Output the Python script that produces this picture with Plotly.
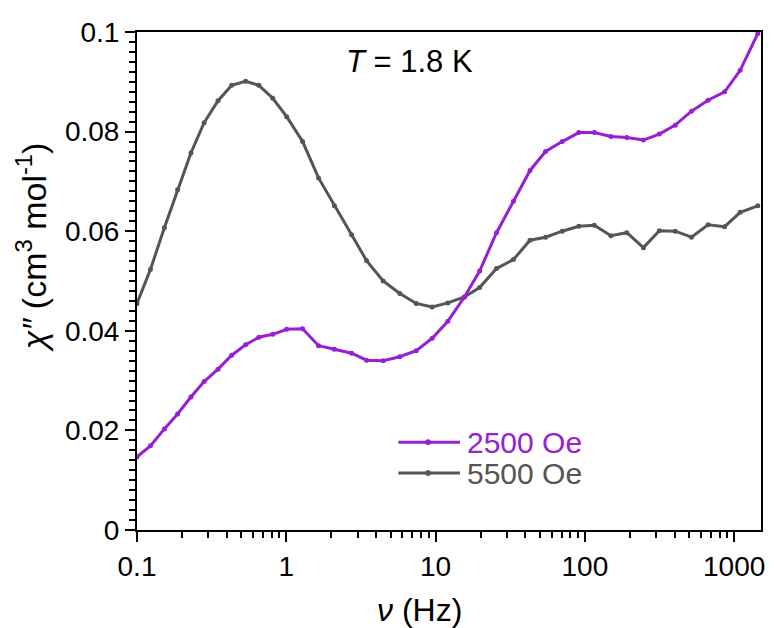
import plotly.graph_objects as go

freq_hz = [0.1, 0.123, 0.1525, 0.187, 0.2297, 0.2816, 0.349, 0.4309, 0.534, 0.655,
           0.812, 1.006, 1.286, 1.644, 2.101, 2.740, 3.448, 4.456, 5.757, 7.426,
           9.49, 12.08, 15.61, 19.73, 25.61, 33.23, 42.95, 54.55, 70.5, 91.1,
           115.7, 149.5, 191.1, 246.9, 315.5, 403.3, 517.9, 669.1, 863.4, 1098, 1441]

chi2_2500 = [0.0147, 0.0169, 0.0203, 0.0233, 0.0267, 0.0298, 0.0323, 0.0351, 0.0372, 0.0387,
             0.0393, 0.0403, 0.0404, 0.0370, 0.0363, 0.0355, 0.0341, 0.0340, 0.0348, 0.0360,
             0.0385, 0.0419, 0.0468, 0.0520, 0.0597, 0.0660, 0.0722, 0.0760, 0.0780, 0.0798,
             0.0798, 0.0790, 0.0788, 0.0783, 0.0795, 0.0813, 0.0841, 0.0863, 0.0880, 0.0923, 0.0997]

chi2_5500 = [0.0455, 0.0523, 0.0607, 0.0683, 0.0757, 0.0818, 0.0862, 0.0893, 0.0901, 0.0893,
             0.0867, 0.0830, 0.0780, 0.0707, 0.0651, 0.0593, 0.0541, 0.0500, 0.0475, 0.0455,
             0.0448, 0.0456, 0.0468, 0.0487, 0.0525, 0.0543, 0.0582, 0.0588, 0.0600, 0.0610,
             0.0612, 0.0591, 0.0597, 0.0567, 0.0601, 0.0600, 0.0588, 0.0613, 0.0609, 0.0638, 0.0651]

series_names = ["2500 Oe", "5500 Oe"]
x_tick_vals = [0.1, 1, 10, 100, 1000]
x_tick_text = ["0.1", "1", "10", "100", "1000"]
y_tick_vals = [0, 0.02, 0.04, 0.06, 0.08, 0.1]
y_tick_text = ["0", "0.02", "0.04", "0.06", "0.08", "0.1"]

PURPLE = "#9620D2"
GRAY = "#555555"
FONT = "Liberation Sans, Arial, sans-serif"

fig = go.Figure()
for ys, name, col in [(chi2_5500, series_names[1], GRAY), (chi2_2500, series_names[0], PURPLE)]:
    fig.add_trace(go.Scatter(x=freq_hz, y=ys, mode="lines+markers", name=name,
                             line=dict(color=col, width=3),
                             marker=dict(color=col, size=5), showlegend=False))

# page body has an 8px margin, so the figure is shifted by 8px; compensate here
fig.update_layout(
    width=766, height=620,
    margin=dict(l=129, r=9, t=23, b=98),
    paper_bgcolor="white", plot_bgcolor="white",
    font=dict(family=FONT, size=28, color="black"),
    showlegend=False,
)
fig.update_xaxes(type="log", range=[-1, 3.18],
                 tickvals=x_tick_vals, ticktext=x_tick_text,
                 ticks="outside", ticklen=10, tickwidth=2, tickcolor="black",
                 showline=True, linecolor="black", linewidth=2, mirror=True,
                 showgrid=False, zeroline=False,
                 minor=dict(ticks="outside", ticklen=6, tickwidth=2, tickcolor="black", dtick="D1", showgrid=False),
                 tickfont=dict(size=28))
fig.update_yaxes(range=[0, 0.1],
                 tickvals=y_tick_vals, ticktext=y_tick_text,
                 ticks="outside", ticklen=10, tickwidth=2, tickcolor="black",
                 showline=True, linecolor="black", linewidth=2, mirror=True,
                 showgrid=False, zeroline=False,
                 minor=dict(ticks="outside", ticklen=6, tickwidth=2, tickcolor="black", dtick=0.002, showgrid=False),
                 tickfont=dict(size=28))

def px2x(px):
    return (px - 137) / 628.0

def px2y(py):
    return (530 - py) / 499.0

# legend (manual)
for (name, col, py) in [(series_names[0], PURPLE, 442), (series_names[1], GRAY, 473)]:
    fig.add_shape(type="line", xref="paper", yref="paper",
                  x0=px2x(400), x1=px2x(462), y0=px2y(py), y1=px2y(py),
                  line=dict(color=col, width=3))
    fig.add_shape(type="circle", xref="paper", yref="paper",
                  x0=px2x(427.5), x1=px2x(432.5), y0=px2y(py + 2.5), y1=px2y(py - 2.5),
                  line=dict(color=col, width=1), fillcolor=col)
    fig.add_annotation(text=name, xref="paper", yref="paper", x=px2x(467), y=px2y(py),
                       xanchor="left", yanchor="middle", showarrow=False,
                       font=dict(size=30, color=col, family=FONT))

fig.add_annotation(text="<i>T</i> = 1.8 K", xref="paper", yref="paper",
                   x=px2x(411), y=px2y(61), xanchor="center", yanchor="middle",
                   showarrow=False, font=dict(size=31, color="black", family=FONT))
fig.add_annotation(text="<i>ν</i> (Hz)", xref="paper", yref="paper",
                   x=px2x(421), y=px2y(610), xanchor="center", yanchor="middle",
                   showarrow=False, font=dict(size=32, color="black", family=FONT))
fig.add_annotation(text="<i>χ″</i> (cm<sup>3</sup> mol<sup>-1</sup>)", xref="paper", yref="paper",
                   x=px2x(31), y=px2y(247), xanchor="center", yanchor="middle", textangle=-90,
                   showarrow=False, font=dict(size=34, color="black", family=FONT))

fig.write_html("out.html")
